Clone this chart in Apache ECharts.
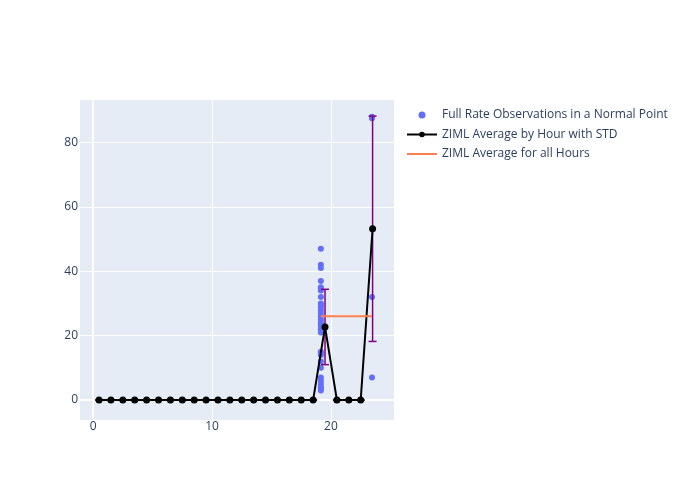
<!DOCTYPE html>
<html>
<head>
<meta charset="utf-8">
<script src="https://cdn.jsdelivr.net/npm/echarts@6/dist/echarts.min.js"></script>
<style>html,body{margin:0;padding:0;background:#fff}#c{width:700px;height:500px}</style>
</head>
<body>
<div id="c"></div>
<script>
// ---- data ----
const hours = [0.5,1.5,2.5,3.5,4.5,5.5,6.5,7.5,8.5,9.5,10.5,11.5,12.5,13.5,14.5,15.5,16.5,17.5,18.5,19.5,20.5,21.5,22.5,23.5];
const hourAvg = [0,0,0,0,0,0,0,0,0,0,0,0,0,0,0,0,0,0,0,22.7,0,0,0,53.2];
const hourStd = [0,0,0,0,0,0,0,0,0,0,0,0,0,0,0,0,0,0,0,11.7,0,0,0,35.0];
const obsX = [19.15,19.15,19.15,19.15,19.15,19.15,19.15,19.15,19.15,19.15,19.15,19.15,19.15,19.15,19.15,19.15,19.15,19.15,19.15,19.15,19.15,19.15,19.15,19.15,19.15,19.15,19.15,19.15,19.15,19.15,19.15,23.45,23.45,23.45,23.45];
const obsY = [47,42,41,37,35,34.5,34,32,30,29.5,29,28,27,26,25,24,23.5,23,22,21,15,14.5,14,12,10,7,6,5,4,3.5,3,87.5,88,32,7];
const allMean = 26.0;
const allMeanStart = 19.15;
const allMeanEnd = 23.45;
const xTicks = [0,10,20];
const yTicks = [0,20,40,60,80];
const names = ['Full Rate Observations in a Normal Point','ZIML Average by Hour with STD','ZIML Average for all Hours'];

const chart = echarts.init(document.getElementById('c'), null, {renderer:'canvas'});
const font = '"Open Sans", verdana, arial, sans-serif';
const fontColor = '#2a3f5f';

const option = {
  backgroundColor: '#ffffff',
  animation: false,
  textStyle: {fontFamily: font},
  grid: {left: 80, right: 306, top: 100, bottom: 80, show: true, backgroundColor: '#E5ECF6', borderWidth: 0},
  legend: {
    orient: 'vertical', left: 401, top: 103,
    itemWidth: 30, itemHeight: 7, itemGap: 5.5,
    textStyle: {color: fontColor, fontSize: 12, fontFamily: font, lineHeight: 14},
    data: [
      {name: names[0]},
      {name: names[1]},
      {name: names[2], itemStyle: {opacity: 0}}
    ]
  },
  xAxis: {
    type: 'value', min: -1.1, max: 25.3,
    axisLine: {show: false}, axisTick: {show: false, customValues: xTicks},
    axisLabel: {customValues: xTicks, color: fontColor, fontSize: 12, margin: 1, fontFamily: font},
    splitLine: {show: true, lineStyle: {color: '#ffffff', width: 1}}
  },
  yAxis: {
    type: 'value', min: -6.2, max: 93.2,
    axisLine: {show: false}, axisTick: {show: false, customValues: yTicks},
    axisLabel: {customValues: yTicks, color: fontColor, fontSize: 12, margin: 2, fontFamily: font},
    splitLine: {show: true, lineStyle: {color: '#ffffff', width: 1}}
  },
  series: [
    {
      name: names[0], type: 'scatter', z: 2,
      symbol: 'circle', symbolSize: 6,
      itemStyle: {color: '#636efa', opacity: 1},
      data: obsX.map((x, i) => [x, obsY[i]]),
      markLine: {
        silent: true, symbol: 'none', label: {show: false}, z: 1,
        lineStyle: {color: '#ffffff', width: 2, type: 'solid'},
        data: [{xAxis: 0}, {yAxis: 0}]
      }
    },
    {
      name: 'errbars', type: 'custom', z: 3,
      data: hours.map((h, i) => [h, hourAvg[i] - hourStd[i], hourAvg[i] + hourStd[i]]),
      renderItem: function (params, api) {
        const x = api.value(0), lo = api.value(1), hi = api.value(2);
        const t = api.coord([x, hi]);
        const b = api.coord([x, lo]);
        const w = 4;
        const st = {stroke: '#800080', lineWidth: 1.5};
        return {type: 'group', children: [
          {type: 'line', shape: {x1: t[0], y1: t[1], x2: b[0], y2: b[1]}, style: st},
          {type: 'line', shape: {x1: t[0] - w, y1: t[1], x2: t[0] + w, y2: t[1]}, style: st},
          {type: 'line', shape: {x1: b[0] - w, y1: b[1], x2: b[0] + w, y2: b[1]}, style: st}
        ]};
      }
    },
    {
      name: names[1], type: 'line', z: 4,
      symbol: 'circle', symbolSize: 7, showSymbol: true,
      lineStyle: {color: '#000000', width: 2},
      itemStyle: {color: '#000000'},
      data: hours.map((h, i) => [h, hourAvg[i]])
    },
    {
      name: names[2], type: 'line', z: 5,
      symbol: 'none', showSymbol: false,
      lineStyle: {color: '#ff7f50', width: 2},
      itemStyle: {color: '#ff7f50'},
      data: [[allMeanStart, allMean], [allMeanEnd, allMean]]
    }
  ]
};
chart.setOption(option);
</script>
</body>
</html>
